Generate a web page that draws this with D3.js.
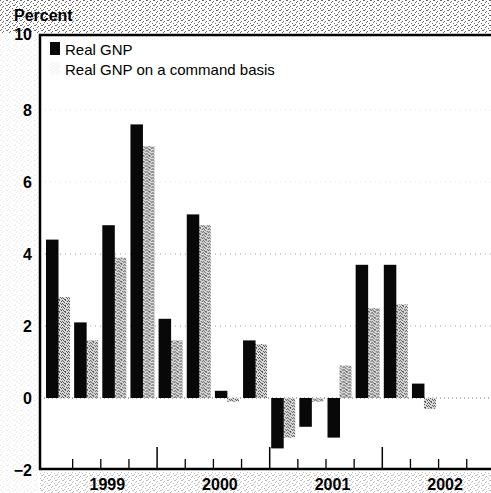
<!DOCTYPE html>
<html>
<head>
<meta charset="utf-8">
<script src="https://cdn.jsdelivr.net/npm/d3@7"></script>
<style>
  body { margin: 0; background: #fff; }
  text { font-family: "Liberation Sans", Arial, Helvetica, sans-serif; }
</style>
</head>
<body>
<script>
// data (percent change, quarterly)
let quarters = ["1999 Q1", "1999 Q2", "1999 Q3", "1999 Q4",
                "2000 Q1", "2000 Q2", "2000 Q3", "2000 Q4",
                "2001 Q1", "2001 Q2", "2001 Q3", "2001 Q4",
                "2002 Q1", "2002 Q2"];
let realGNP = [4.4, 2.1, 4.8, 7.6, 2.2, 5.1, 0.2, 1.6, -1.4, -0.8, -1.1, 3.7, 3.7, 0.4];
let commandBasis = [2.8, 1.6, 3.9, 7.0, 1.6, 4.8, -0.1, 1.5, -1.1, -0.1, 0.9, 2.5, 2.6, -0.3];
let years = ["1999", "2000", "2001", "2002"];
let yTicks = [-2, 0, 2, 4, 6, 8, 10];
let seriesNames = ["Real GNP", "Real GNP on a command basis"];

let width = 491, height = 493;
let frameLeft = 40, frameTop = 35, axisY = 469;

let svg = d3.select("body").append("svg")
    .attr("width", width)
    .attr("height", height);

// stipple textures (the scan shows dotted grey fill)
let defs = svg.append("defs");
let stip = defs.append("pattern").attr("id", "stipple")
    .attr("patternUnits", "userSpaceOnUse").attr("width", 6).attr("height", 6);
stip.append("rect").attr("width", 6).attr("height", 6).attr("fill", "#d8d8d8");
[[0, 0], [3, 0], [1, 1], [5, 1], [2, 2], [4, 3], [0, 3], [1, 4], [5, 4], [3, 5], [2, 5]].forEach(p => {
  stip.append("rect").attr("x", p[0]).attr("y", p[1]).attr("width", 1).attr("height", 1).attr("fill", "#5a5a5a");
});
let speck = defs.append("pattern").attr("id", "speckle")
    .attr("patternUnits", "userSpaceOnUse").attr("width", 7).attr("height", 5);
[[0, 0], [3, 1], [5, 3], [1, 4], [6, 0], [2, 2]].forEach(p => {
  speck.append("rect").attr("x", p[0]).attr("y", p[1]).attr("width", 1).attr("height", 1).attr("fill", "#444");
});

// scan noise around the frame
svg.append("rect").attr("x", 0).attr("y", 0).attr("width", width).attr("height", frameTop - 2)
    .attr("fill", "url(#speckle)").attr("opacity", 0.8);
svg.append("rect").attr("x", 0).attr("y", frameTop).attr("width", frameLeft - 2).attr("height", height - frameTop)
    .attr("fill", "url(#speckle)").attr("opacity", 0.1);
svg.append("rect").attr("x", frameLeft).attr("y", axisY + 3).attr("width", width - frameLeft).attr("height", height - axisY - 3)
    .attr("fill", "url(#speckle)").attr("opacity", 0.35);

// scales
let y = d3.scaleLinear().domain([-2, 10]).range([470, 38]);
let xq = d3.scaleLinear().domain([0, 16]).range([44, 494.4]);
let x = d3.scaleBand().domain(quarters).range([xq(0), xq(quarters.length)]);
let xs = d3.scaleBand().domain(seriesNames).range([2, 26]);

// dotted grid lines (faint in the scan, upper ones almost gone)
svg.append("g").selectAll("line")
    .data(yTicks.filter(d => d > 0 && d < 10))
    .enter().append("line")
    .attr("x1", frameLeft).attr("x2", width)
    .attr("y1", d => y(d)).attr("y2", d => y(d))
    .attr("stroke", "#888").attr("stroke-width", 1)
    .attr("stroke-opacity", d => d <= 4 ? 0.8 : 0.25)
    .attr("stroke-dasharray", "1,4");
svg.append("line")
    .attr("x1", frameLeft).attr("x2", width)
    .attr("y1", y(0)).attr("y2", y(0))
    .attr("stroke", "#666").attr("stroke-width", 1)
    .attr("stroke-dasharray", "1,3");

// bars
let g = svg.selectAll(".q")
    .data(quarters)
    .enter().append("g")
    .attr("class", "q")
    .attr("transform", d => "translate(" + x(d) + ",0)");

g.append("rect")
    .attr("x", xs(seriesNames[1]))
    .attr("width", xs.bandwidth())
    .attr("y", (d, i) => y(Math.max(0, commandBasis[i])))
    .attr("height", (d, i) => Math.abs(y(commandBasis[i]) - y(0)))
    .attr("fill", "url(#stipple)");

g.append("rect")
    .attr("x", xs(seriesNames[0]))
    .attr("width", xs.bandwidth() + 0.5)
    .attr("y", (d, i) => y(Math.max(0, realGNP[i])))
    .attr("height", (d, i) => Math.abs(y(realGNP[i]) - y(0)))
    .attr("fill", "#080808");

// y axis labels
let yAxis = svg.append("g")
    .attr("transform", "translate(" + frameLeft + ",0)")
    .call(d3.axisLeft(y).tickValues(yTicks).tickSize(0).tickPadding(8).tickFormat(d3.format("d")));
yAxis.select(".domain").remove();
yAxis.selectAll("text")
    .attr("font-size", 16).attr("font-weight", "bold").attr("fill", "#000")
    .attr("dy", d => d == 10 ? "0.1em" : "0.32em")
    .style("font-family", "'Liberation Sans', Arial, sans-serif");

// x axis ticks: quarters short, years long
let minor = svg.append("g")
    .attr("transform", "translate(0," + axisY + ")")
    .call(d3.axisBottom(xq).tickValues(d3.range(1, 16).filter(d => d % 4 != 0)).tickSize(-10).tickFormat(""));
let major = svg.append("g")
    .attr("transform", "translate(0," + axisY + ")")
    .call(d3.axisBottom(xq).tickValues([4, 8, 12]).tickSize(-22).tickFormat(""));
svg.selectAll(".domain").remove();
minor.selectAll("line").attr("stroke", "#000").attr("stroke-width", 1.3);
major.selectAll("line").attr("stroke", "#000").attr("stroke-width", 1.5);

// year labels
svg.append("g").selectAll("text")
    .data(years)
    .enter().append("text")
    .attr("x", (d, i) => xq(i * 4 + 2) + 7)
    .attr("y", 490)
    .attr("text-anchor", "middle")
    .attr("font-size", 16).attr("font-weight", "bold")
    .text(d => d);

// frame
svg.append("path")
    .attr("d", "M" + width + "," + frameTop + "H" + frameLeft + "V" + axisY + "H" + width)
    .attr("fill", "none").attr("stroke", "#000").attr("stroke-width", 2.5);

// unit label
svg.append("text")
    .attr("x", 14).attr("y", 21)
    .attr("font-size", 16).attr("font-weight", "bold")
    .text("Percent");

// legend
let legend = svg.append("g").attr("transform", "translate(50,42)");
legend.append("rect").attr("width", 10).attr("height", 13).attr("fill", "#080808");
legend.append("rect").attr("y", 20).attr("width", 10).attr("height", 13)
    .attr("fill", "url(#stipple)").attr("opacity", 0.08);
legend.selectAll("text.lab")
    .data(seriesNames)
    .enter().append("text")
    .attr("class", "lab")
    .attr("x", 15)
    .attr("y", (d, i) => 13 + i * 20)
    .attr("font-size", 15)
    .text(d => d);
</script>
</body>
</html>
